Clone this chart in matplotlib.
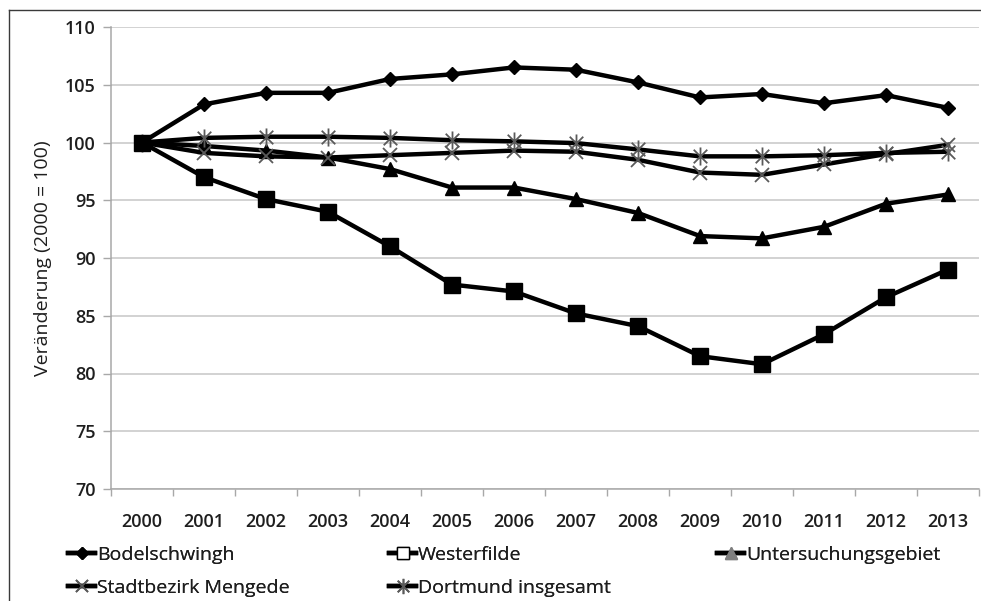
import matplotlib
matplotlib.use("Agg")
import matplotlib.pyplot as plt
from matplotlib.lines import Line2D
from matplotlib.path import Path

plt.rcParams['font.family'] = ['Open Sans', 'DejaVu Sans']

years = ["2000", "2001", "2002", "2003", "2004", "2005", "2006",
         "2007", "2008", "2009", "2010", "2011", "2012", "2013"]

bodelschwingh = [100, 103.3, 104.3, 104.3, 105.5, 105.9, 106.5,
                 106.3, 105.2, 103.9, 104.2, 103.4, 104.1, 103.0]
westerfilde = [100, 97.0, 95.1, 94.0, 91.0, 87.7, 87.1,
               85.2, 84.1, 81.5, 80.8, 83.4, 86.6, 89.0]
untersuchungsgebiet = [100, 99.7, 99.3, 98.7, 97.7, 96.1, 96.1,
                       95.1, 93.9, 91.9, 91.7, 92.7, 94.7, 95.5]
mengede = [100, 99.1, 98.8, 98.7, 98.9, 99.1, 99.3,
           99.2, 98.5, 97.4, 97.2, 98.1, 99.0, 99.8]
dortmund = [100, 100.4, 100.5, 100.5, 100.4, 100.2, 100.1,
            99.95, 99.4, 98.8, 98.8, 98.9, 99.1, 99.2]

y_ticks = [70, 75, 80, 85, 90, 95, 100, 105, 110]

labels = ["Bodelschwingh", "Westerfilde", "Untersuchungsgebiet",
          "Stadtbezirk Mengede", "Dortmund insgesamt"]

TEXT = "#1e1e1e"
WEIGHT = "semibold"

# asterisk marker: an "x" crossed by a vertical bar
asterisk = Path([(0, -1), (0, 1), (-0.75, -0.75), (0.75, 0.75),
                 (-0.75, 0.75), (0.75, -0.75)],
                [Path.MOVETO, Path.LINETO, Path.MOVETO, Path.LINETO,
                 Path.MOVETO, Path.LINETO])

fig = plt.figure(figsize=(9.81, 6.01), dpi=100)
ax = fig.add_axes([111 / 981, 1 - 489 / 601, 868 / 981, 462 / 601])

x = list(range(len(years)))
lw = 3.2
grey_mk = "#5a5a5a"

ax.plot(x, bodelschwingh, color="black", lw=lw, marker="D", ms=7,
        mfc="black", mec="black", zorder=4)
ax.plot(x, untersuchungsgebiet, color="black", lw=lw, marker="^", ms=10,
        mfc="black", mec="black", zorder=4)
ax.plot(x, mengede, color="black", lw=lw, marker="x", ms=10,
        mec=grey_mk, mew=1.3, zorder=4)
ax.plot(x, dortmund, color="black", lw=lw, marker=asterisk, ms=13,
        mec=grey_mk, mew=1.3, zorder=4)
ax.plot(x, westerfilde, color="black", lw=lw, marker="s", ms=12,
        mfc="black", mec="black", zorder=5)

ax.set_xlim(-0.5, len(years) - 0.5)
ax.set_ylim(70, 110)
ax.set_yticks(y_ticks)
ax.set_xticks(x)
ax.set_xticklabels(years)
ax.set_xticks([i - 0.5 for i in range(len(years) + 1)], minor=True)
ax.tick_params(axis="x", which="major", length=0, pad=17, labelsize=13,
               labelcolor=TEXT)
ax.tick_params(axis="x", which="minor", length=5, width=1, color="#a8a8a8",
               direction="out")
ax.tick_params(axis="y", length=6, width=1, color="#a8a8a8", pad=5,
               labelsize=13, labelcolor=TEXT)
for t in ax.get_xticklabels() + ax.get_yticklabels():
    t.set_fontweight(WEIGHT)

ax.grid(axis="y", color="#c6c6c6", lw=1.1)
ax.set_axisbelow(True)
for side in ("top", "right"):
    ax.spines[side].set_visible(False)
for side in ("left", "bottom"):
    ax.spines[side].set_color("#a8a8a8")
    ax.spines[side].set_linewidth(1.1)

ax.set_ylabel("Veränderung (2000 = 100)", fontsize=14, color=TEXT,
              labelpad=9)

# legend handles
h_bodel = Line2D([], [], color="black", lw=lw, marker="D", ms=6,
                 mfc="black", mec="black")
h_wester = Line2D([], [], color="black", lw=lw, marker="s", ms=9,
                  mfc="white", mec="black", mew=1)
h_unters = Line2D([], [], color="black", lw=lw, marker="^", ms=9,
                  mfc="#7f7f7f", mec="#7f7f7f")
h_meng = Line2D([], [], color="black", lw=lw, marker="x", ms=9,
                mec=grey_mk, mew=1.3)
h_dort = Line2D([], [], color="black", lw=lw, marker=asterisk, ms=11,
                mec=grey_mk, mew=1.3)

columns = [([h_bodel, h_meng], [labels[0], labels[3]], 68),
           ([h_wester, h_dort], [labels[1], labels[4]], 389),
           ([h_unters], [labels[2]], 717)]
for handles, labs, px in columns:
    leg = fig.legend(handles, labs, loc="upper left",
                     bbox_to_anchor=(px / 981, 1 - 546 / 601),
                     frameon=False, fontsize=14, handlelength=1.4,
                     handletextpad=0.1, labelspacing=0.75, borderpad=0,
                     borderaxespad=0)
    for t in leg.get_texts():
        t.set_color(TEXT)
    fig.add_artist(leg)

# outer frame edges
fig.add_artist(Line2D([9 / 981, 9 / 981], [0, 1 - 10 / 601],
                      transform=fig.transFigure, color="#3a3a3a", lw=1))
fig.add_artist(Line2D([9 / 981, 1], [1 - 10 / 601, 1 - 10 / 601],
                      transform=fig.transFigure, color="#3a3a3a", lw=1))

fig.savefig("out.png", dpi=100)
